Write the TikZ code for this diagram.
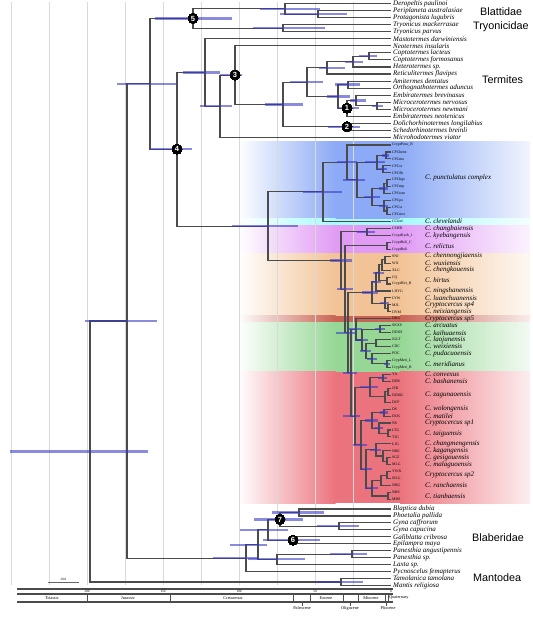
\documentclass[tikz,border=0pt]{standalone}
\usepackage{fontspec}
\setmainfont{Liberation Serif}
\newfontfamily\grpfont{Liberation Sans}
\usetikzlibrary{calc}
\definecolor{hpdc}{RGB}{55,55,200}
\definecolor{cblue}{RGB}{140,170,245}
\definecolor{ccyan}{RGB}{165,250,250}
\definecolor{cpink}{RGB}{225,155,245}
\definecolor{corange}{RGB}{242,195,150}
\definecolor{cdred}{RGB}{200,100,85}
\definecolor{cgreen}{RGB}{150,215,150}
\definecolor{cred}{RGB}{235,115,125}
\definecolor{brc}{RGB}{75,75,75}
\newcommand\jn[4]{\path let \p1=($(#3)!0.5!(#4)$) in coordinate (#1) at (#2pt,\y1);\draw[br] (#3) -| (#1) |- (#4);}
\newcommand\hp[3]{\draw[hpdst] ([xshift=#2pt]#1) -- ([xshift=#3pt]#1);}
\newcommand\band[3]{%
 \shade[left color=white, right color=#3] (238,#1) rectangle (335.5,#2);
 \fill[#3] (335,#1) rectangle (400.5,#2);
 \shade[left color=#3, right color=#3!12!white] (400,#1) rectangle (530,#2);}
\begin{document}
\begin{tikzpicture}[x=1pt,y=-1pt,
 br/.style={draw=brc, line width=1.1pt},
 hpdst/.style={draw=hpdc, line width=2.2pt, opacity=0.58},
 tipl/.style={anchor=west, inner xsep=2pt, inner ysep=0pt, font=\fontsize{7}{7}\selectfont\itshape},
 code/.style={anchor=west, inner xsep=1pt, inner ysep=0pt, font=\fontsize{3.8}{4}\selectfont},
 spl/.style={anchor=west, inner sep=0pt, font=\fontsize{7}{7}\selectfont\itshape},
 grp/.style={anchor=west, inner sep=0pt, font=\grpfont\fontsize{10.8}{11}\selectfont},
 circ/.style={circle, fill=black, text=white, inner sep=0pt, minimum size=10pt, font=\grpfont\bfseries\fontsize{7.5}{8}\selectfont},
 gridl/.style={draw=black!15, line width=1pt},
 axisl/.style={draw=black!70, line width=1.3pt},
 tsl/.style={font=\fontsize{4.3}{4.5}\selectfont, inner sep=0pt},
 tkl/.style={font=\fontsize{3.3}{3.5}\selectfont, inner sep=0pt}]
\useasboundingbox (0,0) rectangle (533,619);
\fill[white] (0,0) rectangle (533,619);
% coloured bands
\band{141}{218.5}{cblue}
\band{218.5}{225}{ccyan}
\band{225}{253}{cpink}
\band{253}{315.5}{corange}
\band{315.5}{322}{cdred}
\band{322}{371.5}{cgreen}
\band{371.5}{503}{cred}
% grid
\foreach \k in {1,...,10} \draw[gridl] ({391-38*\k},2) -- ({391-38*\k},585);
% upper tips
\foreach \i/\t in {1/Deropeltis paulinoi,2/Periplaneta australasiae,3/Protagonista lugubris,4/Tryonicus mackerrasae,5/Tryonicus parvus,6/Mastotermes darwiniensis,7/Neotermes insularis,8/Coptotermes lacteus,9/Coptotermes formosanus,10/Heterotermes sp.,11/Reticulitermes flavipes,12/Amitermes dentatus,13/Orthognathotermes aduncus,14/Embiratermes brevinasus,15/Microcerotermes nervosus,16/Microcerotermes newmani,17/Embiratermes neotenicus,18/Dolichorhinotermes longilabius,19/Schedorhinotermes breinli,20/Microhodotermes viator}
 \node[tipl] (u\i) at (391,{3.5+7.05*(\i-1)}) {\t};
% cryptocercus tips
\foreach \i/\t in {1/CryptPunc\_B,2/CPChrmt,3/CPCmo,4/CPCst,5/CPCSh,6/CPChgo,7/CPCmp,8/CPCtsm,9/CPCpo,10/CPCsr,11/CPCmst,12/CCleel,13/CSHB,14/CryptKyeb\_1,15/CryptReli\_C,16/CryptReli,17/SNJ,18/WX,19/XLC,20/CQ,21/CryptHirt\_B,22/LHYG,23/LYW,24/MJL,25/DYM,26/DKG,27/SKXS,28/DDXS,29/JGLT,30/CDC,31/PDC,32/CrypMeri\_L,33/CrypMeri\_B,34/YA,35/DJM,36/JSK,37/DZMG,38/DCP,39/DS,40/DCK,41/NS,42/LTG,43/TJG,44/LJG,45/NHC,46/SGZ,47/MLG,48/YSJX,49/SILG,50/NHG,51/NHS,52/MHS}
 \node[code] (p\i) at (391,{145+6.95*(\i-1)}) {\t};
% lower tips
\foreach \i/\t in {1/Blaptica dubia,2/Phoetalia pallida,3/Gyna caffrorum,4/Gyna capucina,5/Galiblatta cribrosa,6/Epilampra maya,7/Panesthia angustipennis,8/Panesthia sp.,9/Laxta sp.,10/Pycnoscelus femapterus,11/Tamolanica tamolana,12/Mantis religiosa}
 \node[tipl] (l\i) at (391,{509+6.95*(\i-1)}) {\t};
% species labels
\node[spl] (s1) at ($(p6.west)+(34,-2)$) {C. punctulatus complex};
\foreach \i/\t in {12/C. clevelandi,13/C. changbaiensis,14/C. kyebangensis,17/C. chennongjiaensis,18/C. wuxiensis,19/C. chengkouensis,22/C. ningshanensis,23/C. luanchuanensis,24/Cryptocercus sp4,25/C. neixiangensis,26/Cryptocercus sp5,27/C. arcuatus,28/C. kaihuaensis,29/C. laojunensis,30/C. weixiensis,31/C. pudacuoensis,34/C. convexus,35/C. bashanensis,37/C. zagunaoensis,39/C. wolongensis,40/C. matilei,41/Cryptocercus sp1,44/C. changmengensis,45/C. kagangensis,46/C. gesigouensis,47/C. malaguoensis,50/C. ranchaensis}
 \node[spl] (s\i) at ($(p\i.west)+(34,0)$) {\t};
\foreach \a/\b/\t in {15/16/C. relictus,20/21/C. hirtus,32/33/C. meridianus,42/43/C. taiguensis,48/49/Cryptocercus sp2,51/52/C. tianbaensis}
 \node[spl] (s\a) at ($(p\a.west)!0.5!(p\b.west)+(34,0)$) {\t};
% group labels
\node[grp] (gBl) at (480,12) {Blattidae};
\node[grp] (gTr) at (473,27) {Tryonicidae};
\node[grp] (gTe) at (482,80) {Termites};
\node[grp] (gBb) at (472,538) {Blaberidae};
\node[grp] (gMa) at (473,578) {Mantodea};
% upper tree
\jn{b1}{318}{u2.west}{u3.west}
\jn{b2}{285}{u1.west}{b1}
\jn{ty}{283}{u4.west}{u5.west}
\jn{n5}{193}{b2}{ty}
\jn{c1}{369}{u8.west}{u9.west}
\jn{c2}{353}{c1}{u10.west}
\jn{c3}{327}{c2}{u11.west}
\jn{a1}{348}{u12.west}{u13.west}
\jn{m1}{377}{u15.west}{u16.west}
\jn{k1}{356}{u14.west}{m1}
\jn{n1}{347}{k1}{u17.west}
\jn{j1}{338}{a1}{n1}
\jn{h1}{307}{c3}{j1}
\jn{n2}{347}{u18.west}{u19.west}
\jn{g1}{283}{h1}{n2}
\jn{n3}{235}{u7.west}{g1}
\jn{nn}{220}{n3}{u20.west}
\jn{tt}{205}{u6.west}{nn}
% cryptocercus
\jn{na}{386}{p2.west}{p3.west}
\jn{nb}{383}{p4.west}{p5.west}
\jn{nc}{377}{na}{nb}
\jn{nd1}{387}{p6.west}{p7.west}
\jn{nd}{384}{nd1}{p8.west}
\jn{ne1}{387}{p10.west}{p11.west}
\jn{ne}{384}{p9.west}{ne1}
\jn{nf}{372}{nd}{ne}
\jn{ng}{357}{nc}{nf}
\jn{nh}{347}{p1.west}{ng}
\jn{nQ}{323}{nh}{p12.west}
\jn{pk}{367}{p13.west}{p14.west}
\jn{rl}{387}{p15.west}{p16.west}
\jn{o1}{385}{p17.west}{p18.west}
\jn{o2}{382}{o1}{p19.west}
\jn{o3}{387}{p20.west}{p21.west}
\jn{o4}{379}{o2}{o3}
\jn{o5}{376}{o4}{p22.west}
\jn{o6a}{388}{p24.west}{p25.west}
\jn{o6}{385}{p23.west}{o6a}
\jn{o7}{372}{o5}{o6}
\jn{gg1}{380}{p27.west}{p28.west}
\jn{gg2}{376}{p29.west}{p30.west}
\jn{gm}{387}{p32.west}{p33.west}
\jn{gp}{372}{p31.west}{gm}
\jn{gb}{366}{gg2}{gp}
\jn{nG}{362}{gg1}{gb}
\jn{sG}{356}{p26.west}{nG}
\jn{r1}{383}{p34.west}{p35.west}
\jn{r2a}{388}{p36.west}{p37.west}
\jn{r2}{385}{r2a}{p38.west}
\jn{r3}{370}{r1}{r2}
\jn{r4}{384}{p39.west}{p40.west}
\jn{r5a}{388}{p42.west}{p43.west}
\jn{r5}{379}{p41.west}{r5a}
\jn{r6}{372}{r4}{r5}
\jn{r7a}{387}{p46.west}{p47.west}
\jn{r7b}{383}{p45.west}{r7a}
\jn{r7}{376}{p44.west}{r7b}
\jn{r8a}{387}{p48.west}{p49.west}
\jn{r8b}{381}{r8a}{p50.west}
\jn{r8c}{388}{p51.west}{p52.west}
\jn{r8}{372}{r8b}{r8c}
\jn{r9}{366}{r7}{r8}
\jn{r10}{361}{r6}{r9}
\jn{r11}{355}{r3}{r10}
\jn{Y1}{351}{sG}{r11}
\jn{Y2}{348}{o7}{Y1}
\jn{Y3}{345}{rl}{Y2}
\jn{nU}{341}{pk}{Y3}
\jn{nP}{268}{nQ}{nU}
\jn{n4}{177}{tt}{nP}
\jn{nA}{150}{n5}{n4}
% lower tree
\jn{bp}{299}{l1.west}{l2.west}
\jn{gy}{339}{l3.west}{l4.west}
\jn{n7}{280}{bp}{gy}
\jn{n6}{293}{l5.west}{l6.west}
\jn{nE}{268}{n7}{n6}
\jn{pn}{352}{l7.west}{l8.west}
\jn{nF}{277}{pn}{l9.west}
\jn{nD}{258}{nE}{nF}
\jn{nC}{246}{nD}{l10.west}
\jn{ma}{341}{l11.west}{l12.west}
\jn{nB}{127}{nA}{nC}
\jn{root}{90}{nB}{ma}
% HPD bars
\foreach \n/\a/\b in {root/-80/58,nB/-42/30,nA/-33/27,n5/-38/39,b2/-25/35,b1/-38/29,ty/-30/42,tt/-22/15,nn/-20/12,n3/-15/7,g1/-18/20,h1/-17/16,c3/-8/18,c2/-8/10,c1/-10/8,j1/-11/12,a1/-13/12,n1/-8/12,k1/-6/10,m1/-5/6,n2/-19/13,n4/-27/15,nP/-36/30,nQ/-20/19,nh/-10/10,ng/-14/8,nc/-12/8,na/-4/3,nb/-5/4,nf/-8/8,nd/-5/4,ne/-5/4,nU/-11/11,Y3/-8/8,Y2/-12/8,Y1/-8/6,pk/-10/8,o7/-10/6,o4/-6/5,o5/-5/5,o6/-5/4,sG/-8/6,nG/-7/6,gg1/-5/5,gb/-6/5,gp/-5/5,gm/-3/3,r11/-12/5,r3/-10/8,r10/-8/6,r6/-7/6,r9/-6/6,r7/-6/5,r8/-7/6,r4/-4/4,r5/-5/4,r1/-5/4,bp/-27/25,n7/-26/23,gy/-22/20,n6/-30/27,nE/-28/20,nD/-28/9,nC/-33/12,nF/-29/28,pn/-22/15,ma/-26/22}
 \hp{\n}{\a}{\b}
% calibration circles
\foreach \n/\t in {n1/1,n2/2,n3/3,n4/4,n5/5,n6/6,n7/7} \node[circ] (c\t c) at (\n) {\t};
% scale bar
\coordinate (sbl) at (48,582);
\coordinate (sbr) at (79,582);
\draw[draw=black!60, line width=0.8pt] (sbl) -- (sbr);
\node[tkl] (sbt) at ($(sbl)!0.5!(sbr)+(0,-3)$) {20.0};
% time scale
\foreach \yy in {589,594,602} \draw[axisl] (17,\yy) -- (393,\yy);
\foreach \x in {87,170,293,310,343,358,385,388} \draw[axisl, line width=1pt] (\x,594) -- (\x,602);
\foreach \x in {302,350,386.5} \draw[draw=black!70, line width=0.8pt] (\x,602) -- (\x,606);
\foreach \x/\l in {87/200,163/150,239/100,315/50,391/0} \node[tkl] at (\x,591.5) {\l};
\foreach \x/\l in {52/Triassic,128/Jurassic,233/Cretaceous,326/Eocene,371/Miocene} \node[tsl] at (\x,598) {\l};
\node[tsl, anchor=west] at (389,598) {Quaternary};
\foreach \x/\l in {302/Paleocene,350/Oligocene,388/Pliocene} \node[tsl] at (\x,608.5) {\l};
\end{tikzpicture}
\end{document}
